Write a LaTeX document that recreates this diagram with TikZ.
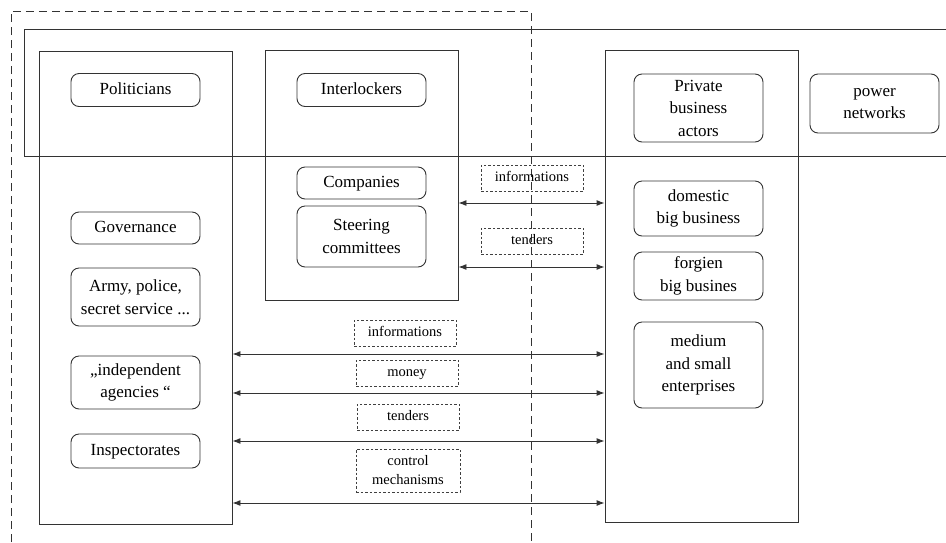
\documentclass[tikz,border=0pt]{standalone}
\usepackage{fontspec}
\setmainfont{Liberation Serif}
\usetikzlibrary{arrows.meta}
\begin{document}
\begin{tikzpicture}[x=1pt,y=-1pt,
  lin/.style={draw=black!80,line width=0.9pt},
  bigbox/.style={lin,rectangle,inner sep=0pt},
  rbox/.style={lin,rectangle,rounded corners=8pt,inner sep=0pt,minimum width=129pt,align=center,font=\fontsize{17}{22.5}\selectfont},
  lbl/.style={draw=black!75,line width=0.7pt,dash pattern=on 2.5pt off 2pt,rectangle,inner sep=0pt,minimum width=102pt,minimum height=26pt,align=center,font=\fontsize{14.5}{19}\selectfont},
  dbl/.style={lin,{Latex[length=8pt,width=6pt]}-{Latex[length=8pt,width=6pt]}},
  outer/.style={draw=black!80,line width=0.9pt,dash pattern=on 8pt off 5pt}]
\useasboundingbox (0,0) rectangle (946,542);
% outer dashed frame
\draw[outer] (11,542) -- (11,11) -- (531,11) -- (531,542);
% power-network band
\draw[lin] (946,29) -- (24,29) -- (24,156) -- (946,156);
% big boxes
\node[bigbox,minimum width=193pt,minimum height=473pt] (gov) at (135.5,287.5) {};
\node[bigbox,minimum width=193pt,minimum height=250pt] (intl) at (361.5,175) {};
\node[bigbox,minimum width=193pt,minimum height=472pt] (biz) at (701.5,286) {};
% left column
\node[rbox,minimum height=33pt] (pol) at (135.5,90) {\strut Politicians};
\node[rbox,minimum height=32pt] (gvn) at (135.5,228) {\strut Governance};
\node[rbox,minimum height=58pt] (army) at (135.5,297) {Army, police,\\secret service ...};
\node[rbox,minimum height=53pt] (ind) at (135.5,382.5) {„independent\\agencies “};
\node[rbox,minimum height=34pt] (insp) at (135.5,451) {\strut Inspectorates};
% middle column
\node[rbox,minimum height=33pt] (intr) at (361.5,90) {\strut Interlockers};
\node[rbox,minimum height=32pt] (comp) at (361.5,183) {\strut Companies};
\node[rbox,minimum height=61pt] (steer) at (361.5,236.5) {Steering\\committees};
% right column
\node[rbox,minimum height=68pt] (priv) at (698.5,108) {Private\\business\\actors};
\node[rbox,minimum height=59pt] (pow) at (874.5,103.5) {power\\networks};
\node[rbox,minimum height=55pt] (dom) at (698.5,208.5) {domestic\\big business};
\node[rbox,minimum height=48pt] (for) at (698.5,276) {forgien\\big busines};
\node[rbox,minimum height=86pt] (med) at (698.5,365) {medium\\and small\\enterprises};
% labels
\node[lbl] (li1) at (532,178) {\strut informations};
\node[lbl] (lt1) at (532,241) {\strut tenders};
\node[lbl] (li2) at (405,333) {\strut informations};
\node[lbl] (lm) at (407,373) {\strut money};
\node[lbl] (lt2) at (408,417) {\strut tenders};
\node[lbl,minimum width=104pt,minimum height=43pt] (lc) at (408,470.5) {control\\mechanisms};
% arrows
\draw[dbl] (intl.east |- 0,203) -- (biz.west |- 0,203);
\draw[dbl] (intl.east |- 0,267) -- (biz.west |- 0,267);
\draw[dbl] (gov.east |- 0,354) -- (biz.west |- 0,354);
\draw[dbl] (gov.east |- 0,393) -- (biz.west |- 0,393);
\draw[dbl] (gov.east |- 0,441) -- (biz.west |- 0,441);
\draw[dbl] (gov.east |- 0,503) -- (biz.west |- 0,503);
\end{tikzpicture}
\end{document}
